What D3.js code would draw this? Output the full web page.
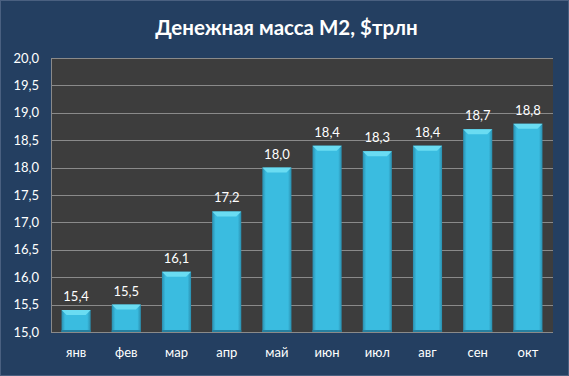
<!DOCTYPE html>
<html>
<head>
<meta charset="utf-8">
<script src="https://cdn.jsdelivr.net/npm/d3@7"></script>
<style>
  html, body { margin: 0; padding: 0; background: #253e5f; }
  svg { display: block; }
  text { font-family: Lato, "Open Sans", sans-serif; }
</style>
</head>
<body>
<div id="chart"></div>
<script>
const months = ['янв', 'фев', 'мар', 'апр', 'май', 'июн', 'июл', 'авг', 'сен', 'окт']
const m2 = [15.4, 15.5, 16.1, 17.2, 18.0, 18.4, 18.3, 18.4, 18.7, 18.8]
const yTicks = [15.0, 15.5, 16.0, 16.5, 17.0, 17.5, 18.0, 18.5, 19.0, 19.5, 20.0]
const title = 'Денежная масса М2, $трлн'

const width = 569
const height = 376
const plot = { left: 51, right: 553, top: 58, bottom: 332 }
const fmt = v => v.toFixed(1).replace('.', ',')

const svg = d3.select('#chart')
    .append('svg')
    .attr('width', width)
    .attr('height', height)

const defs = svg.append('defs')
const bodyGrad = defs.append('linearGradient')
    .attr('id', 'barBody')
    .attr('x1', 0).attr('x2', 1).attr('y1', 0).attr('y2', 0)
bodyGrad.append('stop').attr('offset', '0%').attr('stop-color', '#2a8eae')
bodyGrad.append('stop').attr('offset', '12%').attr('stop-color', '#3abce0')
bodyGrad.append('stop').attr('offset', '88%').attr('stop-color', '#3abce0')
bodyGrad.append('stop').attr('offset', '100%').attr('stop-color', '#2a8eae')

// background + frame
svg.append('rect')
    .attr('x', 0.5).attr('y', 0.5)
    .attr('width', width - 1).attr('height', height - 1)
    .attr('fill', '#243f61')
    .attr('stroke', '#4a6080')

svg.append('text')
    .attr('x', width / 2 + 2)
    .attr('y', 35)
    .attr('text-anchor', 'middle')
    .attr('fill', '#ffffff')
    .attr('font-size', 20.5)
    .attr('font-weight', 'bold')
    .text(title)

const x = d3.scaleBand()
    .domain(months)
    .range([plot.left, plot.right])
    .paddingInner(0.42)
    .paddingOuter(0.21)

const y = d3.scaleLinear()
    .domain([15, 20])
    .range([plot.bottom, plot.top])

svg.append('rect')
    .attr('x', plot.left).attr('y', plot.top)
    .attr('width', plot.right - plot.left)
    .attr('height', plot.bottom - plot.top)
    .attr('fill', '#3d3d3d')

// gridlines
svg.append('g')
    .selectAll('line')
    .data(yTicks)
    .enter()
    .append('line')
    .attr('x1', plot.left).attr('x2', plot.right)
    .attr('y1', d => Math.round(y(d)) + 0.5)
    .attr('y2', d => Math.round(y(d)) + 0.5)
    .attr('stroke', '#8a8a8a')
    .attr('stroke-width', 1)

const yAxis = d3.axisLeft(y)
    .tickValues(yTicks)
    .tickFormat(fmt)
    .tickSize(0)
    .tickPadding(12)

const yg = svg.append('g')
    .attr('transform', `translate(${plot.left}, 0)`)
    .call(yAxis)
yg.select('.domain').attr('stroke', '#8a8a8a')
yg.selectAll('text')
    .attr('fill', '#ffffff')
    .attr('font-size', 13)
    .attr('font-family', 'Lato, sans-serif')

const xAxis = d3.axisBottom(x).tickSize(0).tickPadding(16)
const xg = svg.append('g')
    .attr('transform', `translate(0, ${plot.bottom})`)
    .call(xAxis)
xg.select('.domain').remove()
xg.selectAll('text')
    .attr('fill', '#ffffff')
    .attr('font-size', 13)
    .attr('font-family', 'Lato, sans-serif')

// bars
const bars = svg.append('g')
    .selectAll('g')
    .data(m2.map((v, i) => ({ month: months[i], value: v })))
    .enter()
    .append('g')

const bw = x.bandwidth()
const bevel = 5

bars.append('rect')
    .attr('x', d => x(d.month))
    .attr('y', d => y(d.value))
    .attr('width', bw)
    .attr('height', d => y(15) - y(d.value))
    .attr('fill', 'url(#barBody)')

bars.append('rect')
    .attr('x', d => x(d.month))
    .attr('y', y(15) - 2)
    .attr('width', bw)
    .attr('height', 2)
    .attr('fill', '#2580a0')

bars.append('path')
    .attr('d', d => {
        const x0 = x(d.month), x1 = x0 + bw, t = y(d.value)
        return `M${x0},${t}L${x1},${t}L${x1 - bevel},${t + bevel}L${x0 + bevel},${t + bevel}Z`
    })
    .attr('fill', '#6adcf2')

bars.append('text')
    .attr('x', d => x(d.month) + bw / 2)
    .attr('y', d => y(d.value) - 9)
    .attr('text-anchor', 'middle')
    .attr('fill', '#ffffff')
    .attr('font-size', 13)
    .text(d => fmt(d.value))
</script>
</body>
</html>
